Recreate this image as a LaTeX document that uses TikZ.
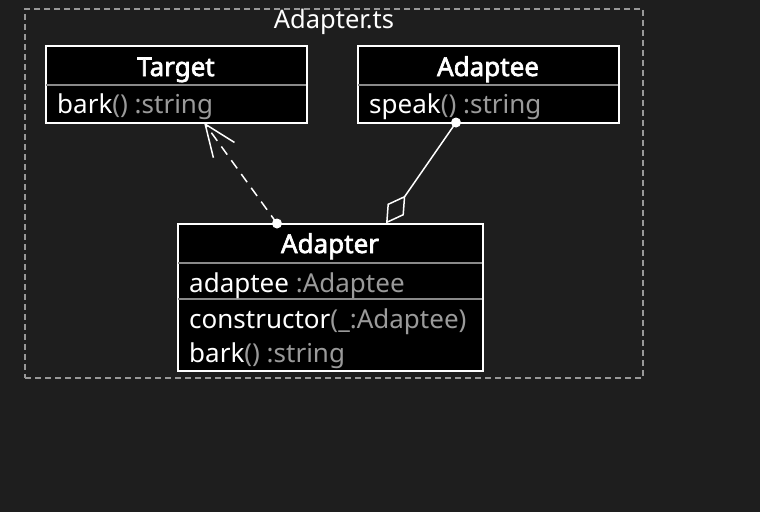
\documentclass[tikz,border=0pt]{standalone}
\usepackage{fontspec}
\setmainfont{Noto Sans}[AutoFakeBold=2.5]
\usetikzlibrary{arrows.meta}
\definecolor{bg}{HTML}{1E1E1E}
\definecolor{dim}{HTML}{9A9A9A}
\definecolor{rule}{HTML}{8A8A8A}
\definecolor{frame}{HTML}{999999}
\tikzset{
  classbox/.style={draw=white, line width=2pt, fill=black, inner sep=0pt, outer sep=0pt, anchor=north west},
  divider/.style={draw=rule, line width=1.8pt},
  member/.style={anchor=base west, inner sep=0pt, text=white, font=\fontsize{26}{28}\selectfont},
  title/.style={anchor=base, inner sep=0pt, text=white, font=\fontsize{26}{28}\selectfont\bfseries},
  conn/.style={draw=white, line width=1.5pt},
}
\begin{document}
\begin{tikzpicture}[x=1pt,y=-1pt]
\fill[bg] (0,0) rectangle (760,512);
\useasboundingbox (0,0) rectangle (760,512);
% package frame
\node[draw=frame, dashed, dash pattern=on 6pt off 4pt, line width=1.3pt, minimum width=618pt, minimum height=369pt, inner sep=0pt, outer sep=0pt, anchor=north west] (pkg) at (25,9) {};
\node[anchor=base, inner sep=0pt, text=white, font=\fontsize{25.5}{28}\selectfont] (pkgname) at (334,28) {Adapter.ts};
% Target
\node[classbox, minimum width=261pt, minimum height=77pt] (target) at (45.5,45.5) {};
\draw[divider] (46,85) -- (306,85);
\node[title] (targetname) at (176,76) {Target};
\node[member] (targetbark) at (57,113) {bark\textcolor{dim}{() :string}};
% Adaptee
\node[classbox, minimum width=261pt, minimum height=77pt] (adaptee) at (357.5,45.5) {};
\draw[divider] (358,85) -- (618,85);
\node[title] (adapteename) at (488,76) {Adaptee};
\node[member] (adapteespeak) at (369,113) {speak\textcolor{dim}{() :string}};
% Adapter
\node[classbox, minimum width=305pt, minimum height=147pt] (adapter) at (177.5,223.5) {};
\draw[divider] (178,263) -- (482,263);
\draw[divider] (178,299) -- (482,299);
\node[title] (adaptername) at (330,253) {Adapter};
\node[member] (adapterfield) at (189,292) {adaptee \textcolor{dim}{:Adaptee}};
\node[member] (adapterctor) at (189,328) {constructor\textcolor{dim}{(\_:Adaptee)}};
\node[member] (adapterbark) at (189,362) {bark\textcolor{dim}{() :string}};
% connectors
\coordinate (realStart) at (adapter.north west -| 277,0);
\coordinate (realEnd) at (target.south west -| 204,0);
\draw[conn, dashed, dash pattern=on 10pt off 7pt, -{Straight Barb[length=32pt,width=26pt,line width=1.5pt]}] (realStart) -- (realEnd);
\fill[white] (realStart) circle (5pt);
\coordinate (aggStart) at (adapter.north west -| 386,0);
\coordinate (aggEnd) at (adaptee.south west -| 456,0);
\draw[conn, {Diamond[open, fill=bg, length=34pt, width=20pt, line width=1.5pt]}-] (aggStart) -- (aggEnd);
\fill[white] (aggEnd) circle (5pt);
\end{tikzpicture}
\end{document}
